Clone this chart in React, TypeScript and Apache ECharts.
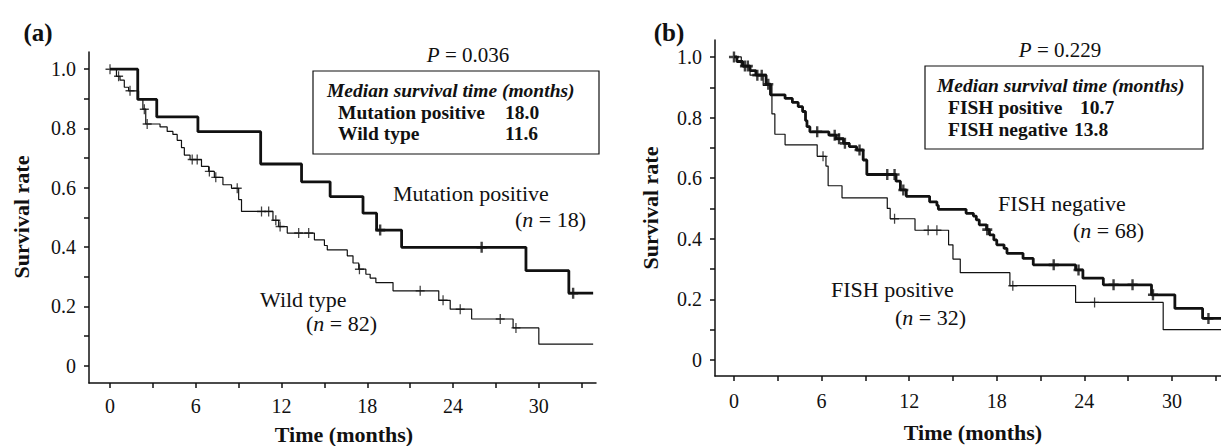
import React, { useEffect, useRef } from 'react';
import * as echarts from 'echarts';

// ---------- data (months, survival rate) ----------
const xTickValues = [0, 3, 6, 9, 12, 15, 18, 21, 24, 27, 30, 33];
const xLabelValues = [0, 6, 12, 18, 24, 30];
const yTickValues = [0, 0.1, 0.2, 0.3, 0.4, 0.5, 0.6, 0.7, 0.8, 0.9, 1.0];
const yLabelValues = [0, 0.2, 0.4, 0.6, 0.8, 1.0];

// Panel (a)
const mutationPositive = [
  [0, 1.0], [1.94, 0.898], [3.27, 0.839], [6.15, 0.789], [10.54, 0.68], [13.4, 0.62],
  [15.4, 0.57], [17.7, 0.514], [18.65, 0.457], [20.4, 0.399], [29.1, 0.32], [32.1, 0.244], [33.8, 0.244],
];
const mutationCensored = [[18.9, 0.457], [26.0, 0.399], [32.4, 0.244]];

const wildType = [
  [0, 1.0], [0.45, 0.976], [0.7, 0.963], [1.0, 0.939], [1.3, 0.927], [2.0, 0.9], [2.3, 0.865],
  [2.5, 0.815], [3.5, 0.805], [4.0, 0.79], [4.4, 0.78], [4.7, 0.76], [5.0, 0.735], [5.2, 0.71],
  [5.6, 0.695], [6.4, 0.672], [6.9, 0.655], [7.3, 0.635], [7.9, 0.61], [8.5, 0.598], [9.0, 0.56],
  [9.2, 0.52], [11.4, 0.49], [11.8, 0.469], [12.4, 0.447], [14.3, 0.424], [15.0, 0.405],
  [15.2, 0.39], [16.6, 0.37], [17.0, 0.346], [17.4, 0.325], [17.9, 0.308], [18.2, 0.295],
  [18.6, 0.28], [19.8, 0.252], [23.0, 0.22], [23.8, 0.19], [25.3, 0.157], [28.2, 0.127],
  [30.0, 0.072], [33.8, 0.072],
];
const wildCensored = [
  [0, 1.0], [0.6, 0.976], [1.4, 0.927], [2.4, 0.865], [2.6, 0.815], [5.75, 0.695], [6.1, 0.695],
  [6.95, 0.655], [7.4, 0.635], [8.9, 0.598], [10.6, 0.52], [11.1, 0.52], [11.6, 0.49], [11.9, 0.469],
  [13.2, 0.447], [13.9, 0.447], [17.45, 0.325], [21.7, 0.252], [23.3, 0.22], [24.5, 0.19],
  [27.3, 0.157], [28.4, 0.127],
];

// Panel (b)
const fishNegative = [
  [0, 1.0], [0.2, 0.985], [0.6, 0.97], [1.1, 0.955], [1.5, 0.94], [2.2, 0.91], [2.5, 0.875],
  [3.5, 0.863], [4.0, 0.85], [4.4, 0.836], [4.7, 0.82], [4.9, 0.79], [5.0, 0.77], [5.2, 0.753],
  [6.5, 0.742], [7.0, 0.73], [7.5, 0.715], [7.9, 0.704], [8.4, 0.693], [8.85, 0.66], [9.1, 0.612],
  [11.1, 0.59], [11.4, 0.561], [11.8, 0.54], [13.4, 0.522], [13.9, 0.51], [14.0, 0.497],
  [15.9, 0.484], [16.4, 0.475], [16.6, 0.462], [16.8, 0.446], [17.3, 0.43], [17.5, 0.413],
  [17.8, 0.396], [18.0, 0.38], [18.5, 0.368], [18.7, 0.352], [19.8, 0.335], [20.5, 0.314],
  [23.4, 0.297], [23.9, 0.27], [25.3, 0.248], [28.6, 0.215], [30.2, 0.17], [32.1, 0.137], [33.4, 0.137],
];
const fishNegativeCensored = [
  [0, 1.0], [0.75, 0.97], [0.95, 0.97], [1.6, 0.94], [1.9, 0.94], [2.35, 0.91], [5.7, 0.753],
  [6.9, 0.742], [7.2, 0.73], [7.6, 0.715], [8.6, 0.693], [10.5, 0.612], [11.0, 0.612], [11.6, 0.561],
  [17.35, 0.43], [21.9, 0.314], [23.6, 0.297], [26.0, 0.248], [27.3, 0.248], [28.7, 0.215], [32.5, 0.137],
];

const fishPositive = [
  [0, 1.0], [0.5, 0.97], [1.1, 0.94], [2.0, 0.906], [2.6, 0.812], [2.8, 0.745], [3.5, 0.71],
  [5.7, 0.672], [6.3, 0.64], [6.45, 0.575], [7.4, 0.535], [10.5, 0.5], [10.7, 0.466], [12.4, 0.428],
  [14.7, 0.38], [15.0, 0.333], [15.5, 0.288], [18.9, 0.245], [23.4, 0.19], [29.4, 0.1], [33.4, 0.1],
];
const fishPositiveCensored = [[6.1, 0.672], [11.0, 0.466], [13.3, 0.428], [13.9, 0.428], [19.1, 0.245], [24.7, 0.19]];

// ---------- styling ----------
const INK = '#111';
const SERIF = '"Liberation Serif", "Times New Roman", serif';
const THIN_PLUS = 'path://M4.3,0H5.7V4.3H10V5.7H5.7V10H4.3V5.7H0V4.3H4.3Z';
const THICK_PLUS = 'path://M3.8,0H6.2V3.8H10V6.2H6.2V10H3.8V6.2H0V3.8H3.8Z';
const BOX = 19.5;
const LBL = 22;

function mkX(gridIndex: number, min: number, max: number, margin: number) {
  return {
    type: 'value', gridIndex, min, max,
    axisLine: { show: true, onZero: false, lineStyle: { color: INK, width: 1.5 } },
    axisTick: { show: true, customValues: xTickValues, length: 5, lineStyle: { color: INK, width: 1.5 } },
    axisLabel: { customValues: xLabelValues, margin, fontFamily: SERIF, fontSize: 20, color: INK },
    splitLine: { show: false },
  };
}
function mkY(gridIndex: number, min: number, max: number) {
  return {
    type: 'value', gridIndex, min, max,
    axisLine: { show: true, onZero: false, lineStyle: { color: INK, width: 1.5 } },
    axisTick: { show: true, customValues: yTickValues, length: 5, lineStyle: { color: INK, width: 1.5 } },
    axisLabel: {
      customValues: yLabelValues, margin: 13, fontFamily: SERIF, fontSize: 20, color: INK,
      formatter: (v: number) => (v === 0 ? '0' : v.toFixed(1)),
    },
    splitLine: { show: false },
  };
}
function line(name: string, data: number[][], idx: number, width: number) {
  return {
    type: 'line', name, data, xAxisIndex: idx, yAxisIndex: idx, step: 'end', showSymbol: false,
    lineStyle: { color: INK, width }, itemStyle: { color: INK }, z: 2,
  };
}
function cens(name: string, data: number[][], idx: number, thick: boolean) {
  return {
    type: 'scatter', name, data, xAxisIndex: idx, yAxisIndex: idx,
    symbol: thick ? THICK_PLUS : THIN_PLUS, symbolSize: thick ? [10, 11] : [9, 10],
    itemStyle: { color: INK }, z: 3,
  };
}
function txt(x: number, y: number, text: string, opts: any = {}) {
  const { size = 18, weight = 'normal', style = 'normal', align = 'left', rotation = 0, rich } = opts;
  return {
    type: 'text', x, y, rotation, z: 10,
    style: {
      text, fontFamily: SERIF, fontSize: size, fontWeight: weight, fontStyle: style, fill: INK,
      align, verticalAlign: 'middle', rich,
    },
  };
}
const italicRich = (size: number) => ({ i: { fontFamily: SERIF, fontSize: size, fontStyle: 'italic', fill: INK } });

export default function App() {
  const ref = useRef<HTMLDivElement>(null);
  useEffect(() => {
    if (!ref.current) return;
    const chart = echarts.init(ref.current, undefined, { renderer: 'svg' });
    const option: any = {
      animation: false,
      backgroundColor: '#fff',
      grid: [
        { left: 89, top: 52, width: 507, height: 331 },
        { left: 715, top: 40, width: 506, height: 336 },
      ],
      xAxis: [mkX(0, -1.47, 34.0, 13), mkX(1, -1.3, 33.36, 15)],
      yAxis: [mkY(0, -0.059, 1.058), mkY(1, -0.053, 1.056)],
      series: [
        line('Wild type', wildType, 0, 1.2),
        line('Mutation positive', mutationPositive, 0, 2.8),
        cens('Wild type censored', wildCensored, 0, false),
        cens('Mutation positive censored', mutationCensored, 0, true),
        line('FISH positive', fishPositive, 1, 1.2),
        line('FISH negative', fishNegative, 1, 2.8),
        cens('FISH positive censored', fishPositiveCensored, 1, false),
        cens('FISH negative censored', fishNegativeCensored, 1, true),
      ],
      graphic: [
        // panel (a)
        txt(38, 32, '(a)', { size: 25, weight: 'bold', align: 'center' }),
        txt(21, 217, 'Survival rate', { size: 22, weight: 'bold', align: 'center', rotation: Math.PI / 2 }),
        txt(344, 434, 'Time (months)', { size: 22, weight: 'bold', align: 'center' }),
        txt(468, 55, '{i|P} = 0.036', { size: 21, align: 'center', rich: italicRich(21) }),
        { type: 'rect', z: 9, shape: { x: 313, y: 71, width: 286, height: 83 }, style: { fill: 'none', stroke: INK, lineWidth: 1.2 } },
        txt(327, 90, 'Median survival time (months)', { size: BOX, weight: 'bold', style: 'italic' }),
        txt(338, 112, 'Mutation positive', { size: BOX, weight: 'bold' }),
        txt(505, 112, '18.0', { size: BOX, weight: 'bold' }),
        txt(338, 133, 'Wild type', { size: BOX, weight: 'bold' }),
        txt(505, 133, '11.6', { size: BOX, weight: 'bold' }),
        txt(393, 193, 'Mutation positive', { size: LBL }),
        txt(515, 219, '({i|n} = 18)', { size: LBL, rich: italicRich(LBL) }),
        txt(260, 299, 'Wild type', { size: LBL }),
        txt(306, 323, '({i|n} = 82)', { size: LBL, rich: italicRich(LBL) }),
        // panel (b)
        txt(669, 32, '(b)', { size: 25, weight: 'bold', align: 'center' }),
        txt(650, 208, 'Survival rate', { size: 22, weight: 'bold', align: 'center', rotation: Math.PI / 2 }),
        txt(973, 432, 'Time (months)', { size: 22, weight: 'bold', align: 'center' }),
        txt(1060, 50, '{i|P} = 0.229', { size: 21, align: 'center', rich: italicRich(21) }),
        { type: 'rect', z: 9, shape: { x: 925, y: 66, width: 278, height: 83 }, style: { fill: 'none', stroke: INK, lineWidth: 1.2 } },
        txt(937, 85, 'Median survival time (months)', { size: BOX, weight: 'bold', style: 'italic' }),
        txt(948, 107, 'FISH positive', { size: BOX, weight: 'bold' }),
        txt(1080, 107, '10.7', { size: BOX, weight: 'bold' }),
        txt(948, 129, 'FISH negative', { size: BOX, weight: 'bold' }),
        txt(1074, 129, '13.8', { size: BOX, weight: 'bold' }),
        txt(998, 203, 'FISH negative', { size: LBL }),
        txt(1073, 230, '({i|n} = 68)', { size: LBL, rich: italicRich(LBL) }),
        txt(831, 289, 'FISH positive', { size: LBL }),
        txt(895, 317, '({i|n} = 32)', { size: LBL, rich: italicRich(LBL) }),
      ],
    };
    chart.setOption(option);
    return () => chart.dispose();
  }, []);
  return <div ref={ref} style={{ position: 'fixed', left: 0, top: 0, width: 1221, height: 446 }} />;
}
